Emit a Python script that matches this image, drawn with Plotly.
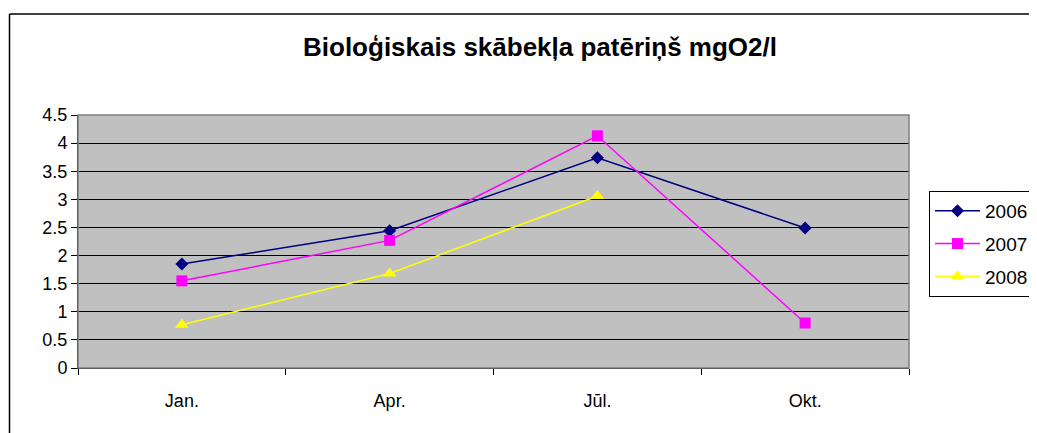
import plotly.graph_objects as go

months = ["Jan.", "Apr.", "Jūl.", "Okt."]
v2006 = [1.85, 2.44, 3.74, 2.49]
v2007 = [1.55, 2.27, 4.13, 0.80]
v2008 = [0.77, 1.68, 3.06, None]

fig = go.Figure()
fig.add_trace(go.Scatter(x=months, y=v2006, name="2006", mode="lines+markers", legendgroup="a",
                         line=dict(color="#000080", width=1.5),
                         marker=dict(symbol="diamond", size=10, color="#000080")))
fig.add_trace(go.Scatter(x=months, y=v2007, name="2007", mode="lines+markers", legendgroup="b",
                         line=dict(color="#FF00FF", width=1.5),
                         marker=dict(symbol="square", size=11, color="#FF00FF")))
fig.add_trace(go.Scatter(x=months, y=v2008, name="2008", mode="lines+markers", legendgroup="c",
                         line=dict(color="#FFFF00", width=1.5),
                         marker=dict(symbol="triangle-up", size=12, color="#FFFF00")))

# page offset: the html body has an 8px margin
OFF = 8
W, H = 1037 - OFF, 433 - OFF
# target plot-area edges in page pixels
PL, PR, PT, PB = 78, 909, 115, 368
L, R, T, B = PL - OFF, W - (PR - OFF), PT - OFF, H - (PB - OFF)
pw, ph = W - L - R, H - T - B

def px(x):
    return (x - OFF - L) / pw

def py(y):
    return (H - B - (y - OFF)) / ph

fig.update_layout(
    width=W, height=H,
    margin=dict(l=L, r=R, t=T, b=B, autoexpand=False),
    paper_bgcolor="white",
    plot_bgcolor="#C0C0C0",
    font=dict(family="Liberation Sans, Arial, sans-serif", size=18, color="black"),
    title=dict(text="<b>Bioloģiskais skābekļa patēriņš mgO2/l</b>",
               x=(540 - OFF) / W, xanchor="center", xref="container",
               y=1 - (47 - OFF) / H, yanchor="middle", yref="container",
               font=dict(size=26)),
    showlegend=True,
    legend=dict(x=px(929), y=py(191), xanchor="left", yanchor="top",
                bordercolor="black", borderwidth=1, bgcolor="white",
                font=dict(size=19), tracegroupgap=5, itemwidth=45),
    xaxis=dict(type="category", tickson="boundaries", ticks="outside", ticklen=6,
               tickcolor="black", showline=True, linecolor="black", linewidth=1,
               showgrid=False, range=[-0.5, 3.5], ticklabelstandoff=16, automargin=False),
    yaxis=dict(range=[0, 4.5], dtick=0.5, ticks="outside", ticklen=6, tickcolor="black",
               showline=True, linecolor="black", linewidth=1,
               showgrid=True, gridcolor="black", gridwidth=1, zeroline=False,
               automargin=False),
    shapes=[
        dict(type="rect", xref="paper", yref="paper", x0=0, x1=1, y0=0, y1=1,
             line=dict(color="#808080", width=1.5), layer="above"),
        dict(type="line", xref="paper", yref="paper", x0=px(9.5), x1=px(9.5),
             y0=py(14), y1=py(440), line=dict(color="black", width=1.5)),
        dict(type="line", xref="paper", yref="paper", x0=px(9.5), x1=px(1040),
             y0=py(14), y1=py(14), line=dict(color="black", width=1.5)),
    ],
)

fig.write_html("out.html")
